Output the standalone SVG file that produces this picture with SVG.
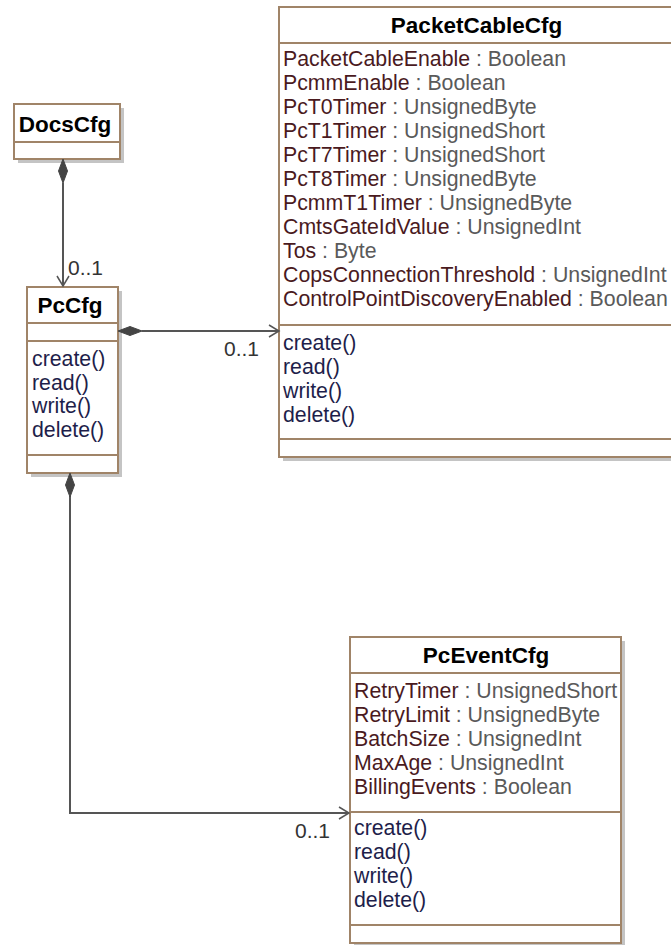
<svg xmlns="http://www.w3.org/2000/svg" width="671" height="945" viewBox="0 0 671 945">
<style>
.shadow{fill:#c4c4c4;stroke:none}
.box{fill:#fff;stroke:#a08468;stroke-width:2}
.div{stroke:#a08468;stroke-width:2}
.title{font-family:"Liberation Sans",Arial,sans-serif;font-weight:bold;font-size:22.5px;fill:#000;text-anchor:middle}
.t{font-family:"Liberation Sans",Arial,sans-serif;font-size:21.3px}
.an{fill:#4a1a1e}
.ty{fill:#5a5a5a}
.op{fill:#1e1e4a}
.mult{font-family:"Liberation Sans",Arial,sans-serif;font-size:21px;fill:#333}
.conn{fill:none;stroke:#555;stroke-width:2}
.dia{fill:#444;stroke:#444;stroke-width:1}
.arr{fill:none;stroke:#555;stroke-width:1.5}
</style>
<g id="DocsCfg">
<rect class="shadow" x="18" y="108" width="106" height="55"/>
<rect class="box" x="14" y="104" width="106" height="55"/>
<line class="div" x1="14" y1="142" x2="120" y2="142"/>
<text class="title" x="65" y="132">DocsCfg</text>
</g>
<g id="PcCfg">
<rect class="shadow" x="31" y="291" width="91" height="186"/>
<rect class="box" x="27" y="287" width="91" height="186"/>
<line class="div" x1="27" y1="323" x2="118" y2="323"/>
<line class="div" x1="27" y1="341" x2="118" y2="341"/>
<line class="div" x1="27" y1="455" x2="118" y2="455"/>
<text class="title" x="70" y="313">PcCfg</text>
<text class="t op" x="32" y="366">create()</text>
<text class="t op" x="32" y="390">read()</text>
<text class="t op" x="32" y="413">write()</text>
<text class="t op" x="32" y="437">delete()</text>
</g>
<g id="PacketCableCfg">
<rect class="shadow" x="283" y="11" width="395" height="450"/>
<rect class="box" x="279" y="7" width="395" height="450"/>
<line class="div" x1="279" y1="43" x2="674" y2="43"/>
<line class="div" x1="279" y1="325" x2="674" y2="325"/>
<line class="div" x1="279" y1="439" x2="674" y2="439"/>
<text class="title" x="476.5" y="33">PacketCableCfg</text>
<text class="t" x="283" y="66"><tspan class="an">PacketCableEnable</tspan><tspan class="ty"> : Boolean</tspan></text>
<text class="t" x="283" y="90"><tspan class="an">PcmmEnable</tspan><tspan class="ty"> : Boolean</tspan></text>
<text class="t" x="283" y="114"><tspan class="an">PcT0Timer</tspan><tspan class="ty"> : UnsignedByte</tspan></text>
<text class="t" x="283" y="138"><tspan class="an">PcT1Timer</tspan><tspan class="ty"> : UnsignedShort</tspan></text>
<text class="t" x="283" y="162"><tspan class="an">PcT7Timer</tspan><tspan class="ty"> : UnsignedShort</tspan></text>
<text class="t" x="283" y="186"><tspan class="an">PcT8Timer</tspan><tspan class="ty"> : UnsignedByte</tspan></text>
<text class="t" x="283" y="210"><tspan class="an">PcmmT1Timer</tspan><tspan class="ty"> : UnsignedByte</tspan></text>
<text class="t" x="283" y="234"><tspan class="an">CmtsGateIdValue</tspan><tspan class="ty"> : UnsignedInt</tspan></text>
<text class="t" x="283" y="258"><tspan class="an">Tos</tspan><tspan class="ty"> : Byte</tspan></text>
<text class="t" x="283" y="282"><tspan class="an">CopsConnectionThreshold</tspan><tspan class="ty"> : UnsignedInt</tspan></text>
<text class="t" x="283" y="306"><tspan class="an">ControlPointDiscoveryEnabled</tspan><tspan class="ty"> : Boolean</tspan></text>
<text class="t op" x="283" y="350">create()</text>
<text class="t op" x="283" y="374">read()</text>
<text class="t op" x="283" y="398">write()</text>
<text class="t op" x="283" y="422">delete()</text>
</g>
<g id="PcEventCfg">
<rect class="shadow" x="354" y="641" width="271" height="306"/>
<rect class="box" x="350" y="637" width="271" height="306"/>
<line class="div" x1="350" y1="673" x2="621" y2="673"/>
<line class="div" x1="350" y1="812" x2="621" y2="812"/>
<line class="div" x1="350" y1="925" x2="621" y2="925"/>
<text class="title" x="486" y="663">PcEventCfg</text>
<text class="t" x="354" y="698"><tspan class="an">RetryTimer</tspan><tspan class="ty"> : UnsignedShort</tspan></text>
<text class="t" x="354" y="722"><tspan class="an">RetryLimit</tspan><tspan class="ty"> : UnsignedByte</tspan></text>
<text class="t" x="354" y="746"><tspan class="an">BatchSize</tspan><tspan class="ty"> : UnsignedInt</tspan></text>
<text class="t" x="354" y="770"><tspan class="an">MaxAge</tspan><tspan class="ty"> : UnsignedInt</tspan></text>
<text class="t" x="354" y="794"><tspan class="an">BillingEvents</tspan><tspan class="ty"> : Boolean</tspan></text>
<text class="t op" x="354" y="835">create()</text>
<text class="t op" x="354" y="859">read()</text>
<text class="t op" x="354" y="883">write()</text>
<text class="t op" x="354" y="907">delete()</text>
</g>
<g id="connectors">
<line class="conn" x1="63" y1="183" x2="63" y2="286"/>
<polygon class="dia" points="63,159 67.5,171 63,183 58.5,171"/>
<polyline class="arr" points="57,276 63,286 69,276"/>
<text class="mult" x="68" y="275">0..1</text>
<line class="conn" x1="142" y1="331" x2="279" y2="331"/>
<polygon class="dia" points="118,331 130,326.5 142,331 130,335.5"/>
<polyline class="arr" points="269,325 279,331 269,337"/>
<text class="mult" x="224" y="356">0..1</text>
<polyline class="conn" points="70,496 70,813 349,813"/>
<polygon class="dia" points="70,473 74.5,485 70,497 65.5,485"/>
<polyline class="arr" points="339,807 349,813 339,819"/>
<text class="mult" x="295" y="838">0..1</text>
</g>
</svg>
